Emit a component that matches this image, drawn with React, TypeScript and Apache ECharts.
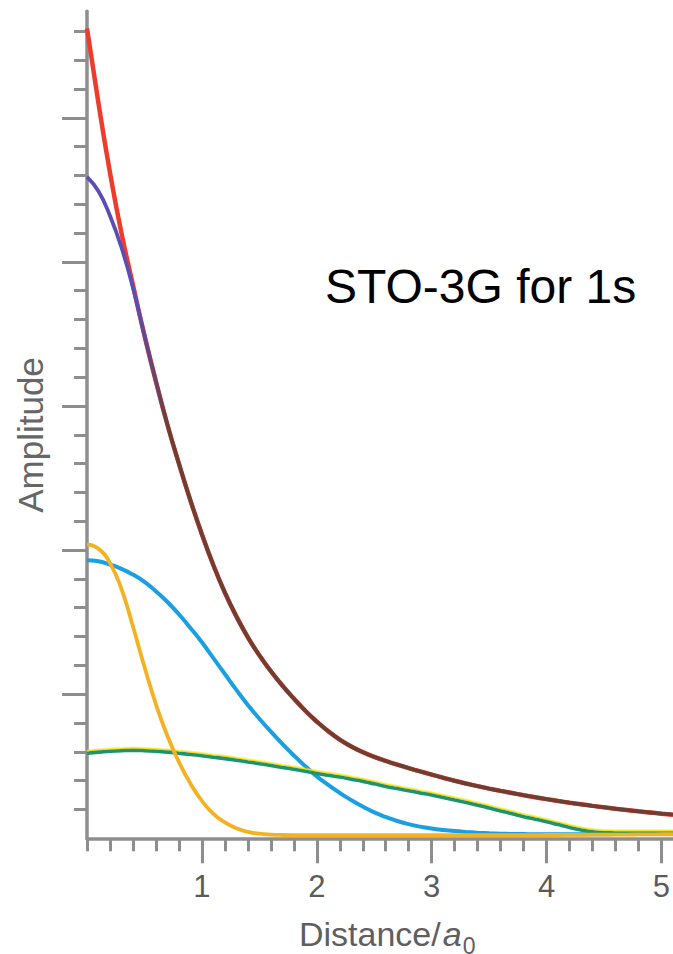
import React, { useEffect, useRef } from 'react';
import * as echarts from 'echarts';

// Distance (in units of a0) at which every curve was read
const distance = [
  0, 0.1, 0.2, 0.3, 0.4, 0.5, 0.6, 0.7, 0.8, 0.9,
  1.0, 1.1, 1.2, 1.3, 1.4, 1.5, 1.6, 1.7, 1.8, 1.9,
  2.0, 2.1, 2.2, 2.3, 2.4, 2.5, 2.6, 2.7, 2.8, 2.9,
  3.0, 3.1, 3.2, 3.3, 3.4, 3.5, 3.6, 3.7, 3.8, 3.9,
  4.0, 4.1, 4.2, 4.3, 4.4, 4.5, 4.6, 4.7, 4.8, 4.9,
  5.0, 5.1,
];

// Slater 1s orbital (red)
const slater1s = [
  5.62, 5.10, 4.62, 4.20, 3.84, 3.49, 3.17, 2.87, 2.60, 2.345,
  2.11, 1.895, 1.705, 1.54, 1.395, 1.27, 1.16, 1.06, 0.97, 0.885,
  0.81, 0.743, 0.685, 0.637, 0.598, 0.565, 0.537, 0.511, 0.487, 0.464,
  0.442, 0.420, 0.399, 0.380, 0.362, 0.345, 0.329, 0.314, 0.299, 0.285,
  0.272, 0.259, 0.247, 0.236, 0.225, 0.215, 0.205, 0.196, 0.187, 0.179,
  0.171, 0.164,
];
// STO-3G sum (purple, merging into the red curve)
const sto3g = [
  4.59, 4.49, 4.32, 4.10, 3.82, 3.49, 3.17, 2.87, 2.60, 2.345,
  2.11, 1.895, 1.705, 1.54, 1.395, 1.27, 1.16, 1.06, 0.97, 0.885,
  0.81, 0.743, 0.685, 0.637, 0.598, 0.565, 0.537, 0.511, 0.487, 0.464,
  0.442, 0.420, 0.399, 0.380, 0.362, 0.345, 0.329, 0.314, 0.299, 0.285,
  0.272, 0.259, 0.247, 0.236, 0.225, 0.215, 0.205, 0.196, 0.187, 0.179,
  0.171, 0.164,
];
// Gaussian components
const gaussBlue = [
  1.93, 1.922, 1.90, 1.87, 1.83, 1.78, 1.715, 1.64, 1.555, 1.46,
  1.36, 1.25, 1.14, 1.03, 0.925, 0.83, 0.74, 0.655, 0.575, 0.50,
  0.43, 0.37, 0.315, 0.265, 0.22, 0.18, 0.148, 0.12, 0.098, 0.081,
  0.068, 0.058, 0.05, 0.044, 0.039, 0.035, 0.032, 0.030, 0.029, 0.028,
  0.028, 0.028, 0.028, 0.028, 0.028, 0.028, 0.029, 0.029, 0.029, 0.03,
  0.03, 0.03,
];
const gaussYellow = [
  2.04, 2.01, 1.91, 1.73, 1.47, 1.19, 0.93, 0.71, 0.53, 0.38,
  0.26, 0.17, 0.11, 0.07, 0.045, 0.032, 0.026, 0.023, 0.022, 0.022,
  0.022, 0.022, 0.022, 0.022, 0.022, 0.022, 0.022, 0.022, 0.022, 0.022,
  0.022, 0.022, 0.022, 0.022, 0.022, 0.022, 0.022, 0.022, 0.022, 0.022,
  0.023, 0.023, 0.024, 0.024, 0.025, 0.025, 0.026, 0.026, 0.027, 0.027,
  0.028, 0.028,
];
const gaussGreen = [
  0.59, 0.598, 0.604, 0.608, 0.61, 0.608, 0.604, 0.598, 0.59, 0.582,
  0.573, 0.563, 0.553, 0.542, 0.53, 0.518, 0.505, 0.492, 0.479, 0.465,
  0.45, 0.438, 0.425, 0.41, 0.395, 0.378, 0.36, 0.345, 0.33, 0.315,
  0.30, 0.283, 0.265, 0.248, 0.23, 0.21, 0.19, 0.17, 0.15, 0.133,
  0.115, 0.095, 0.075, 0.058, 0.045, 0.039, 0.037, 0.036, 0.036, 0.036,
  0.036, 0.036,
];

const xTickLabels = ['1', '2', '3', '4', '5'];

const W = 673;
const H = 954;
const X0 = 87; // pixel of distance 0
const XU = 114.9; // pixels per unit distance
const Y0 = 838.3; // pixel of amplitude 0
const YU = 144.1; // pixels per unit amplitude

const AXIS = '#8e8e8e';
const FONT = '"Liberation Sans", Arial, Helvetica, sans-serif';

export default function App() {
  const ref = useRef<HTMLDivElement>(null);
  useEffect(() => {
    document.body.style.margin = '0';
    const chart = echarts.init(ref.current as HTMLDivElement, null, { renderer: 'svg', width: W, height: H });
    const pair = (ys: number[]) => distance.map((d, i) => [d, ys[i]]);
    const hidden = { show: false };
    const brownGrad = new echarts.graphic.LinearGradient(0, 0, 1, 0, [
      { offset: 0, color: '#5b4db3' },
      { offset: 0.085, color: '#5b4db3' },
      { offset: 0.14, color: '#6d3e32' },
      { offset: 1, color: '#6d3e32' },
    ]);
    const option: any = {
      animation: false,
      backgroundColor: '#ffffff',
      grid: [
        { left: X0, right: W - (X0 + 5.1 * XU), top: Y0 - 5.74 * YU, bottom: H - Y0, containLabel: false },
        { left: X0, right: W - (X0 + 5 * XU), top: Y0 - 5.6 * YU, bottom: H - (Y0 - 0.2 * YU), containLabel: false },
        { left: X0 + XU, right: W - (X0 + 5 * XU), top: Y0 - 5 * YU, bottom: H - (Y0 - YU), containLabel: false },
      ],
      xAxis: [
        {
          gridIndex: 0, type: 'value', min: 0, max: 5.1,
          axisLine: { show: true, onZero: false, lineStyle: { color: AXIS, width: 3.5 } },
          axisTick: hidden, axisLabel: hidden, splitLine: hidden,
        },
        {
          gridIndex: 1, type: 'value', min: 0, max: 5, interval: 0.2, offset: 0.2 * YU,
          axisLine: { show: false, onZero: false },
          axisTick: { show: true, length: 13, lineStyle: { color: AXIS, width: 3 } },
          axisLabel: hidden, splitLine: hidden,
        },
        {
          gridIndex: 2, type: 'value', min: 1, max: 5, interval: 1, offset: YU,
          axisLine: { show: false, onZero: false },
          axisTick: { show: true, length: 25, lineStyle: { color: AXIS, width: 3 } },
          axisLabel: {
            show: true, margin: 33, fontSize: 31, color: '#5b5b5b', fontFamily: FONT,
            formatter: (v: number) => xTickLabels[Math.round(v) - 1] ?? '',
          },
          splitLine: hidden,
        },
      ],
      yAxis: [
        {
          gridIndex: 0, type: 'value', min: 0, max: 5.74,
          axisLine: { show: true, onZero: false, lineStyle: { color: AXIS, width: 3.5 } },
          axisTick: hidden, axisLabel: hidden, splitLine: hidden,
        },
        {
          gridIndex: 1, type: 'value', min: 0.2, max: 5.6, interval: 0.2,
          axisLine: { show: false, onZero: false },
          axisTick: { show: true, length: 13, lineStyle: { color: AXIS, width: 3 } },
          axisLabel: hidden, splitLine: hidden,
        },
        {
          gridIndex: 2, type: 'value', min: 1, max: 5, interval: 1, offset: XU,
          axisLine: { show: false, onZero: false },
          axisTick: { show: true, length: 25, lineStyle: { color: AXIS, width: 3 } },
          axisLabel: hidden, splitLine: hidden,
        },
      ],
      series: [
        {
          name: 'Slater 1s', type: 'line', xAxisIndex: 0, yAxisIndex: 0, data: pair(slater1s),
          symbol: 'none', smooth: 0.5, clip: false, z: 3,
          lineStyle: { color: '#ef3b2c', width: 4.5 },
        },
        {
          name: 'STO-3G', type: 'line', xAxisIndex: 0, yAxisIndex: 0, data: pair(sto3g),
          symbol: 'none', smooth: 0.5, clip: false, z: 4,
          lineStyle: { color: brownGrad, width: 3.8 },
        },
        {
          name: 'blue', type: 'line', xAxisIndex: 0, yAxisIndex: 0, data: pair(gaussBlue),
          symbol: 'none', smooth: 0.5, z: 5,
          lineStyle: { color: '#1aa0e2', width: 4 },
        },
        {
          name: 'green', type: 'line', xAxisIndex: 0, yAxisIndex: 0, data: pair(gaussGreen),
          symbol: 'none', smooth: 0.5, z: 6,
          lineStyle: { color: '#1b9470', width: 3.6, shadowColor: '#f2e400', shadowOffsetY: -1.5, shadowBlur: 1 },
        },
        {
          name: 'yellow', type: 'line', xAxisIndex: 0, yAxisIndex: 0, data: pair(gaussYellow),
          symbol: 'none', smooth: 0.5, z: 7,
          lineStyle: { color: '#f4b223', width: 3.8 },
        },
      ],
      graphic: [
        {
          type: 'text', x: 325, y: 286, z: 10,
          style: { text: 'STO-3G for 1s', fill: '#000000', fontSize: 48, fontFamily: FONT, verticalAlign: 'middle' },
        },
        {
          type: 'text', x: 30.5, y: 435, rotation: Math.PI / 2, z: 10,
          style: { text: 'Amplitude', fill: '#666666', fontSize: 35, fontFamily: FONT, align: 'center', verticalAlign: 'middle' },
        },
        {
          type: 'text', x: 299, y: 911, z: 10,
          style: {
            text: '{n|Distance/}{a|a}{s|0}', verticalAlign: 'top',
            rich: {
              n: { fontSize: 34, fontFamily: FONT, fill: '#5f5f5f', color: '#5f5f5f', lineHeight: 46 },
              a: { fontSize: 34, fontFamily: FONT, fontStyle: 'italic', fill: '#5f5f5f', color: '#5f5f5f', lineHeight: 46, padding: [0, 0, 0, 2] },
              s: { fontSize: 23, fontFamily: FONT, fill: '#5f5f5f', color: '#5f5f5f', lineHeight: 23, verticalAlign: 'bottom', padding: [0, 0, 0, 1] },
            },
          },
        },
      ],
    };
    chart.setOption(option);
    return () => chart.dispose();
  }, []);
  return <div ref={ref} style={{ width: W, height: H, background: '#ffffff' }} />;
}
